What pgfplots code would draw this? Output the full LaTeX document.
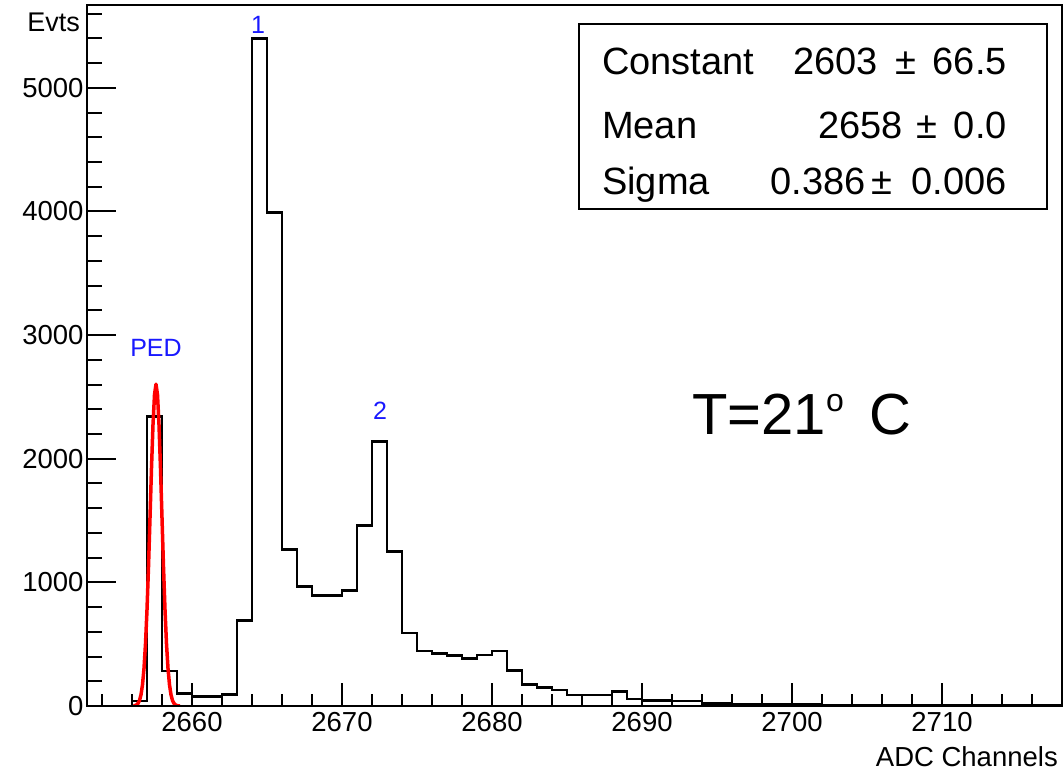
\documentclass[border=0pt]{standalone}
\usepackage{fontspec}
\setmainfont{Liberation Sans}
\usepackage{pgfplots}
\pgfplotsset{compat=1.18}
\definecolor{rootblue}{RGB}{25,25,255}
\newcommand{\tickfont}{\fontsize{27.5}{30}\selectfont}
\newcommand{\statfont}{\fontsize{38}{42}\selectfont}
\begin{document}
\begin{tikzpicture}[x=1pt,y=1pt]
\useasboundingbox (0,0) rectangle (1064,772);
% main axis: x ticks and data
\begin{axis}[
  at={(87pt,66pt)}, anchor=south west,
  width=975pt, height=701pt, scale only axis,
  xmin=2653, xmax=2718, ymin=0, ymax=5670,
  axis line style={line width=2.5pt},
  tick align=inside, xtick pos=bottom, ytick pos=left,
  xtick={2660,2670,...,2710},
  minor xtick={2654,2656,...,2716},
  ytick=\empty,
  major tick length=23pt, minor tick length=12pt,
  tick style={black, line width=2pt},
  xticklabel style={font=\tickfont, yshift=-3pt},
  /pgf/number format/assume math mode=true,
  /pgf/number format/1000 sep={},
  scaled ticks=false,
]
\addplot[const plot, black, line width=2.6pt, mark=none] coordinates {
(2653,0) (2654,0) (2655,0) (2656,40) (2657,2344) (2658,283) (2659,100)
(2660,75) (2661,75) (2662,95) (2663,691) (2664,5400) (2665,3993) (2666,1264)
(2667,967) (2668,894) (2669,894) (2670,934) (2671,1459) (2672,2137) (2673,1250)
(2674,589) (2675,446) (2676,427) (2677,408) (2678,386) (2679,413) (2680,446)
(2681,286) (2682,176) (2683,149) (2684,130) (2685,90) (2686,90) (2687,90)
(2688,116) (2689,57) (2690,45) (2691,45) (2692,42) (2693,42) (2694,20)
(2695,18) (2696,16) (2697,14) (2698,13) (2699,12) (2700,11) (2701,10)
(2702,9) (2703,9) (2704,8) (2705,8) (2706,7) (2707,6) (2708,6) (2709,5)
(2710,5) (2711,4) (2712,4) (2713,3) (2714,4) (2715,3) (2716,3) (2717,2) (2718,2)
};
\addplot[red, line width=3.5pt, mark=none, line join=round] coordinates {
(2656.1,1.4) (2656.2,3.6) (2656.3,9) (2656.4,21) (2656.5,45) (2656.6,91)
(2656.7,172) (2656.8,304) (2656.9,503) (2657.0,778) (2657.1,1125) (2657.2,1522)
(2657.3,1924) (2657.4,2276) (2657.5,2517) (2657.6,2603) (2657.7,2517)
(2657.8,2276) (2657.9,1924) (2658.0,1522) (2658.1,1125) (2658.2,778)
(2658.3,503) (2658.4,304) (2658.5,172) (2658.6,91) (2658.7,45) (2658.8,21)
(2658.9,9) (2659.0,3.6) (2659.1,1.4) (2659.2,0.5)
};
\end{axis}
% second axis: y ticks
\begin{axis}[
  at={(87pt,66pt)}, anchor=south west,
  width=975pt, height=701pt, scale only axis,
  xmin=2653, xmax=2718, ymin=0, ymax=5670,
  axis line style={line width=2.5pt},
  tick align=inside, ytick pos=left,
  xtick=\empty,
  ytick={0,1000,...,5000},
  minor ytick={200,400,...,5600},
  major tick length=29pt, minor tick length=15pt,
  tick style={black, line width=2pt},
  yticklabel style={font=\tickfont},
  /pgf/number format/assume math mode=true,
  /pgf/number format/1000 sep={},
  scaled ticks=false,
]
\end{axis}
% axis titles
\node[anchor=east, inner sep=0, font=\fontsize{27}{30}\selectfont] at (80,750) {Evts};
\node[anchor=east, inner sep=0, font=\fontsize{27.5}{30}\selectfont] at (1058,15) {ADC Channels};
% peak labels
\node[inner sep=0, text=rootblue, font=\fontsize{25}{28}\selectfont] at (156,424) {PED};
\node[inner sep=0, text=rootblue, font=\fontsize{25}{28}\selectfont] at (258,747) {1};
\node[inner sep=0, text=rootblue, font=\fontsize{25}{28}\selectfont] at (380,361) {2};
% stats box
\draw[line width=2.2pt, fill=white] (579,563) rectangle (1047,748);
\begin{scope}[every node/.style={inner sep=0, font=\statfont}]
\node[anchor=base west] at (602,697.7) {Constant};
\node[anchor=base east] at (878,697.7) {2603};
\node[anchor=base] at (906,697.7) {±};
\node[anchor=base east] at (1007,697.7) {66.5};
\node[anchor=base west] at (602,633.7) {Mean};
\node[anchor=base east] at (903,633.7) {2658};
\node[anchor=base] at (927,633.7) {±};
\node[anchor=base east] at (1007,633.7) {0.0};
\node[anchor=base west] at (602,577) {Sigma};
\node[anchor=base east] at (866,577) {0.386};
\node[anchor=base] at (882,577) {±};
\node[anchor=base east] at (1007,577) {0.006};
\end{scope}
% temperature
\node[anchor=base west, inner sep=0, font=\fontsize{58}{64}\selectfont] at (692,338) {T=21\raisebox{0.38em}{\fontsize{32}{32}\selectfont o}\hspace{0.45em}C};
\end{tikzpicture}
\end{document}
